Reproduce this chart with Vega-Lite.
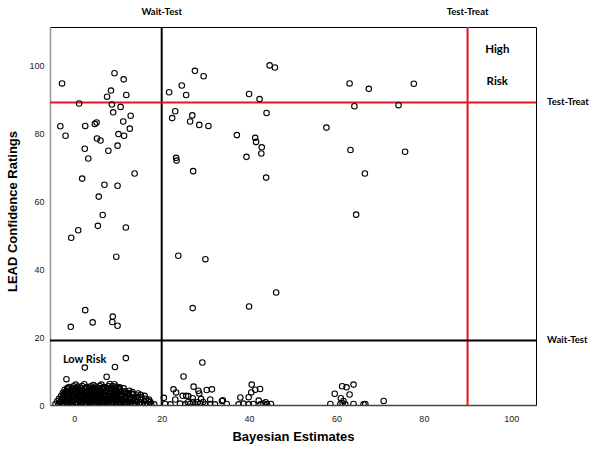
{
"$schema": "https://vega.github.io/schema/vega-lite/v6.json",
"width": 486, "height": 378,
"autosize": {"type": "none"},
"padding": {"left": 50, "top": 27, "right": 64, "bottom": 50},
"background": "white",
"config": {
  "view": {"stroke": "black", "strokeWidth": 1},
  "axis": {"grid": false, "ticks": false, "tickSize": 0, "labelFont": "Liberation Sans", "labelFontSize": 9, "labelColor": "#222", "titleFont": "Liberation Sans", "titleFontSize": 13, "titleFontWeight": "bold", "titleColor": "#000"}
},
"datasets": {
  "points": [
    {"x":-2.8,"y":94.6},{"x":9.2,"y":97.6},{"x":11.3,"y":95.8},{"x":8.4,"y":92.5},{"x":7.5,"y":90.7},{"x":11.9,"y":91.2},{"x":1.1,"y":88.7},{"x":8.6,"y":88.4},{"x":10.6,"y":87.7},{"x":8.9,"y":86.1},{"x":12.9,"y":85.1},{"x":11.2,"y":83.4},{"x":5.1,"y":83.1},{"x":4.7,"y":82.7},{"x":2.5,"y":82.1},{"x":-3.2,"y":82.0},{"x":-2.0,"y":79.2},{"x":12.7,"y":81.3},{"x":10.1,"y":79.7},{"x":11.4,"y":79.2},{"x":5.2,"y":78.4},{"x":6.0,"y":77.8},{"x":9.9,"y":76.3},{"x":2.4,"y":75.4},{"x":7.8,"y":74.8},{"x":3.2,"y":72.5},{"x":13.8,"y":68.1},{"x":1.8,"y":66.6},{"x":6.9,"y":64.8},{"x":9.9,"y":64.5},{"x":5.6,"y":61.3},{"x":6.5,"y":55.9},{"x":5.4,"y":52.7},{"x":11.8,"y":52.2},{"x":0.9,"y":51.4},{"x":-0.7,"y":49.2},{"x":9.6,"y":43.6},{"x":2.5,"y":27.9},{"x":4.2,"y":24.3},{"x":-0.8,"y":23.0},{"x":8.8,"y":26.0},{"x":8.7,"y":24.4},{"x":9.9,"y":23.3},
    {"x":21.7,"y":92.0},{"x":24.6,"y":94.0},{"x":25.6,"y":91.2},{"x":27.6,"y":98.3},{"x":29.6,"y":96.7},{"x":23.1,"y":86.4},{"x":22.4,"y":84.4},{"x":27.0,"y":85.2},{"x":26.5,"y":83.4},{"x":28.6,"y":82.4},{"x":30.7,"y":82.1},{"x":23.3,"y":72.7},{"x":23.4,"y":71.9},{"x":27.2,"y":68.8},{"x":23.8,"y":43.9},{"x":30.0,"y":42.9},{"x":46.2,"y":33.1},{"x":44.7,"y":99.9},{"x":45.9,"y":99.3},{"x":40.0,"y":91.5},{"x":42.4,"y":90.0},{"x":44.0,"y":85.9},{"x":37.2,"y":79.4},{"x":41.4,"y":78.6},{"x":41.6,"y":77.4},{"x":42.9,"y":75.8},{"x":42.8,"y":74.0},{"x":39.4,"y":73.0},{"x":43.9,"y":66.9},{"x":27.1,"y":28.5},{"x":40.0,"y":29.0},
    {"x":57.7,"y":81.6},{"x":63.0,"y":94.6},{"x":67.4,"y":93.0},{"x":77.7,"y":94.5},{"x":64.1,"y":87.9},{"x":74.2,"y":88.2},{"x":63.2,"y":75.0},{"x":75.7,"y":74.5},{"x":66.5,"y":68.1},{"x":64.5,"y":56.0},
    {"x":11.8,"y":13.8},{"x":2.4,"y":11.0},{"x":9.3,"y":11.2},{"x":-1.8,"y":7.6},{"x":7.4,"y":8.3},{"x":29.3,"y":12.5},{"x":25.0,"y":8.4},
    {"x":22.7,"y":4.6},{"x":23.3,"y":3.7},{"x":27.3,"y":5.4},{"x":28.4,"y":4.2},{"x":28.6,"y":3.4},{"x":30.3,"y":4.4},{"x":31.5,"y":4.6},{"x":24.8,"y":2.7},{"x":25.6,"y":2.7},{"x":26.1,"y":2.6},{"x":23.1,"y":1.6},{"x":27.1,"y":2.0},{"x":29.0,"y":1.8},{"x":31.1,"y":1.6},{"x":20.5,"y":2.1},{"x":33.8,"y":1.2},{"x":34.0,"y":1.4},{"x":38.0,"y":2.2},{"x":40.6,"y":6.0},{"x":40.5,"y":3.7},{"x":41.4,"y":4.5},{"x":42.5,"y":4.7},{"x":39.9,"y":2.3},{"x":42.2,"y":1.3},
    {"x":20.8,"y":0.3},{"x":22.0,"y":0.2},{"x":24.2,"y":0.4},{"x":25.4,"y":0.2},{"x":26.5,"y":0.3},{"x":27.7,"y":0.2},{"x":28.8,"y":0.4},{"x":30.0,"y":0.2},{"x":31.1,"y":0.3},{"x":32.2,"y":0.2},{"x":34.9,"y":0.3},{"x":37.6,"y":0.2},{"x":38.7,"y":0.4},{"x":39.9,"y":0.2},{"x":41.0,"y":0.3},{"x":42.6,"y":0.2},{"x":43.3,"y":0.4},{"x":44.1,"y":0.2},{"x":45.0,"y":0.3},{"x":26.0,"y":0.8},{"x":27.2,"y":0.9},{"x":28.2,"y":0.8},{"x":29.5,"y":0.9},{"x":43.8,"y":0.8},
    {"x":61.3,"y":5.5},{"x":62.3,"y":5.2},{"x":63.9,"y":6.0},{"x":59.6,"y":3.3},{"x":63.0,"y":3.1},{"x":61.0,"y":2.0},{"x":61.6,"y":1.2},{"x":61.4,"y":0.5},{"x":70.8,"y":1.2},{"x":58.6,"y":0.3},{"x":60.9,"y":0.3},{"x":62.0,"y":0.2},{"x":63.9,"y":0.3},{"x":66.2,"y":0.2},{"x":66.6,"y":0.3},
    {"x":-4.3,"y":0.3},{"x":-3.6,"y":0.1},{"x":-2.9,"y":0.4},{"x":-2.2,"y":0.2},{"x":-1.4,"y":0.3},{"x":-0.8,"y":0.1},{"x":0.1,"y":0.4},{"x":0.8,"y":0.2},{"x":1.5,"y":0.1},{"x":2.2,"y":0.3},{"x":2.9,"y":0.2},{"x":3.7,"y":0.4},{"x":4.3,"y":0.1},{"x":5.0,"y":0.3},{"x":5.8,"y":0.2},{"x":6.4,"y":0.4},{"x":7.1,"y":0.1},{"x":7.9,"y":0.3},{"x":8.5,"y":0.2},{"x":9.2,"y":0.4},{"x":10.0,"y":0.1},{"x":10.6,"y":0.3},{"x":11.3,"y":0.2},{"x":12.1,"y":0.1},{"x":12.8,"y":0.3},{"x":13.5,"y":0.2},{"x":14.1,"y":0.1},{"x":14.8,"y":0.3},{"x":15.5,"y":0.2},{"x":16.2,"y":0.1},{"x":16.9,"y":0.3},{"x":17.6,"y":0.1},{"x":18.3,"y":0.2},
    {"x":-3.9,"y":1.1},{"x":-3.2,"y":0.9},{"x":-2.5,"y":1.2},{"x":-1.8,"y":0.8},{"x":-1.0,"y":1.0},{"x":-0.3,"y":1.2},{"x":0.5,"y":0.9},{"x":1.2,"y":1.1},{"x":1.9,"y":0.8},{"x":2.6,"y":1.2},{"x":3.3,"y":1.0},{"x":4.0,"y":0.9},{"x":4.7,"y":1.2},{"x":5.4,"y":1.0},{"x":6.1,"y":0.8},{"x":6.8,"y":1.1},{"x":7.5,"y":1.0},{"x":8.2,"y":1.2},{"x":8.9,"y":0.9},{"x":9.6,"y":1.1},{"x":10.3,"y":0.8},{"x":11.0,"y":1.2},{"x":11.8,"y":1.0},{"x":12.6,"y":0.9},{"x":13.4,"y":1.1},{"x":14.3,"y":1.0},{"x":15.1,"y":0.8},{"x":16.0,"y":1.1},{"x":16.8,"y":1.3},{"x":17.4,"y":0.9},
    {"x":-3.5,"y":1.8},{"x":-2.7,"y":2.0},{"x":-2.0,"y":1.7},{"x":-1.3,"y":2.1},{"x":-0.5,"y":1.9},{"x":0.2,"y":1.7},{"x":1.0,"y":2.0},{"x":1.7,"y":1.8},{"x":2.4,"y":2.1},{"x":3.1,"y":1.9},{"x":3.8,"y":1.7},{"x":4.5,"y":2.0},{"x":5.2,"y":1.8},{"x":6.0,"y":2.1},{"x":6.7,"y":1.9},{"x":7.4,"y":1.7},{"x":8.1,"y":2.0},{"x":8.8,"y":1.8},{"x":9.5,"y":2.1},{"x":10.2,"y":1.9},{"x":11.0,"y":1.7},{"x":11.8,"y":2.0},{"x":12.7,"y":1.8},{"x":13.6,"y":2.1},{"x":14.5,"y":1.9},{"x":15.4,"y":2.2},{"x":16.3,"y":1.8},{"x":17.1,"y":1.6},
    {"x":-3.0,"y":2.7},{"x":-2.3,"y":2.9},{"x":-1.6,"y":2.6},{"x":-0.8,"y":3.0},{"x":-0.1,"y":2.8},{"x":0.6,"y":2.6},{"x":1.4,"y":2.9},{"x":2.1,"y":2.7},{"x":2.8,"y":3.0},{"x":3.6,"y":2.8},{"x":4.3,"y":2.6},{"x":5.0,"y":2.9},{"x":5.7,"y":2.7},{"x":6.5,"y":3.0},{"x":7.2,"y":2.8},{"x":7.9,"y":2.6},{"x":8.7,"y":2.9},{"x":9.4,"y":2.7},{"x":10.1,"y":3.0},{"x":10.9,"y":2.8},{"x":11.7,"y":2.6},{"x":12.5,"y":2.9},{"x":13.4,"y":3.1},{"x":14.3,"y":2.8},{"x":15.2,"y":3.0},{"x":16.1,"y":2.7},
    {"x":-2.6,"y":3.6},{"x":-1.9,"y":3.8},{"x":-1.1,"y":3.5},{"x":-0.4,"y":3.9},{"x":0.4,"y":3.7},{"x":1.1,"y":3.5},{"x":1.8,"y":3.8},{"x":2.6,"y":3.6},{"x":3.3,"y":3.9},{"x":4.0,"y":3.7},{"x":4.8,"y":3.5},{"x":5.5,"y":3.8},{"x":6.2,"y":3.6},{"x":7.0,"y":3.9},{"x":7.7,"y":3.7},{"x":8.4,"y":3.5},{"x":9.2,"y":3.8},{"x":9.9,"y":3.6},{"x":10.7,"y":3.9},{"x":11.6,"y":3.7},{"x":12.4,"y":3.5},{"x":13.3,"y":3.8},{"x":14.6,"y":3.4},
    {"x":-2.2,"y":4.5},{"x":-1.4,"y":4.7},{"x":-0.6,"y":4.4},{"x":0.2,"y":4.8},{"x":1.0,"y":4.6},{"x":1.8,"y":4.4},{"x":2.6,"y":4.7},{"x":3.3,"y":4.5},{"x":4.1,"y":4.8},{"x":4.9,"y":4.6},{"x":5.7,"y":4.4},{"x":6.5,"y":4.7},{"x":7.3,"y":4.5},{"x":8.0,"y":4.8},{"x":8.8,"y":4.6},{"x":9.6,"y":4.4},{"x":10.4,"y":4.7},{"x":11.3,"y":4.9},
    {"x":-1.2,"y":5.3},{"x":-0.2,"y":5.5},{"x":0.8,"y":5.4},{"x":1.8,"y":5.6},{"x":2.8,"y":5.3},{"x":3.8,"y":5.5},{"x":4.8,"y":5.4},{"x":5.8,"y":5.6},{"x":6.8,"y":5.3},{"x":7.8,"y":5.5},{"x":8.7,"y":5.6},{"x":9.6,"y":5.4},{"x":10.4,"y":5.2},
    {"x":0.3,"y":6.0},{"x":2.3,"y":6.1},{"x":4.4,"y":5.9},{"x":6.2,"y":6.0},{"x":8.1,"y":6.2},{"x":9.2,"y":6.1},
    {"x":-2.5,"y":0.6},{"x":-1.5,"y":0.7},{"x":-0.4,"y":0.5},{"x":0.6,"y":0.6},{"x":1.6,"y":0.7},{"x":2.6,"y":0.5},{"x":3.6,"y":0.6},{"x":4.6,"y":0.7},{"x":5.6,"y":0.5},{"x":6.6,"y":0.6},{"x":7.6,"y":0.7},{"x":8.6,"y":0.5},{"x":9.6,"y":0.6},{"x":10.7,"y":0.7},{"x":11.7,"y":0.5},{"x":12.9,"y":0.6},
    {"x":-2.9,"y":1.5},{"x":-1.9,"y":1.4},{"x":-0.8,"y":1.6},{"x":0.3,"y":1.5},{"x":1.3,"y":1.4},{"x":2.3,"y":1.6},{"x":3.3,"y":1.5},{"x":4.3,"y":1.4},{"x":5.3,"y":1.6},{"x":6.3,"y":1.5},{"x":7.3,"y":1.4},{"x":8.3,"y":1.6},{"x":9.3,"y":1.5},{"x":10.4,"y":1.4},{"x":11.5,"y":1.6},{"x":12.6,"y":1.5},{"x":13.9,"y":1.4},{"x":15.2,"y":1.6},
    {"x":-2.6,"y":2.3},{"x":-1.5,"y":2.4},{"x":-0.4,"y":2.2},{"x":0.7,"y":2.3},{"x":1.7,"y":2.4},{"x":2.7,"y":2.2},{"x":3.7,"y":2.3},{"x":4.7,"y":2.4},{"x":5.7,"y":2.2},{"x":6.7,"y":2.3},{"x":7.7,"y":2.4},{"x":8.7,"y":2.2},{"x":9.7,"y":2.3},{"x":10.7,"y":2.4},{"x":11.8,"y":2.2},{"x":13.0,"y":2.3},{"x":14.1,"y":2.4},
    {"x":-2.4,"y":3.2},{"x":-1.3,"y":3.1},{"x":-0.2,"y":3.3},{"x":0.9,"y":3.2},{"x":1.9,"y":3.1},{"x":2.9,"y":3.3},{"x":3.9,"y":3.2},{"x":4.9,"y":3.1},{"x":5.9,"y":3.3},{"x":6.9,"y":3.2},{"x":7.9,"y":3.1},{"x":8.9,"y":3.3},{"x":9.9,"y":3.2},{"x":10.9,"y":3.1},{"x":12.0,"y":3.3},{"x":13.2,"y":3.2},
    {"x":-1.8,"y":4.1},{"x":-0.8,"y":4.0},{"x":0.2,"y":4.2},{"x":1.3,"y":4.1},{"x":2.3,"y":4.0},{"x":3.3,"y":4.2},{"x":4.3,"y":4.1},{"x":5.3,"y":4.0},{"x":6.3,"y":4.2},{"x":7.3,"y":4.1},{"x":8.3,"y":4.0},{"x":9.3,"y":4.2},{"x":10.3,"y":4.1},{"x":11.5,"y":4.0},{"x":12.6,"y":4.2},
    {"x":-1.6,"y":5.0},{"x":-0.6,"y":4.9},{"x":0.5,"y":5.1},{"x":1.5,"y":5.0},{"x":2.5,"y":4.9},{"x":3.5,"y":5.1},{"x":4.5,"y":5.0},{"x":5.5,"y":4.9},{"x":6.5,"y":5.1},{"x":7.5,"y":5.0},{"x":8.5,"y":4.9},{"x":9.4,"y":5.1},{"x":10.1,"y":5.0}
  ],
  "riskCenter": [{"x":96.8,"y":104.3,"label":"High"},{"x":96.8,"y":95.0,"label":"Risk"}],
  "riskLeft": [{"x":-2.6,"y":13.1,"label":"Low Risk"}],
  "topLabels": [{"x":20,"y":115.6,"label":"Wait-Test"},{"x":90,"y":115.6,"label":"Test-Treat"}],
  "rightLabels": [{"x":108.2,"y":89,"label":"Test-Treat"},{"x":108.2,"y":19,"label":"Wait-Test"}]
},
"layer": [
  {"data": {"values": [{"x":20}]}, "mark": {"type":"rule","color":"black","strokeWidth":2},
   "encoding": {"x": {"field":"x","type":"quantitative","scale":{"domain":[-5.56,105.66],"nice":false,"zero":false}}}},
  {"data": {"values": [{"x":90}]}, "mark": {"type":"rule","color":"#e8141b","strokeWidth":2},
   "encoding": {"x": {"field":"x","type":"quantitative","scale":{"domain":[-5.56,105.66],"nice":false,"zero":false}}}},
  {"data": {"values": [{"y":19}]}, "mark": {"type":"rule","color":"black","strokeWidth":2},
   "encoding": {"y": {"field":"y","type":"quantitative","scale":{"domain":[0,111.2],"nice":false,"zero":false}}}},
  {"data": {"values": [{"y":89}]}, "mark": {"type":"rule","color":"#e8141b","strokeWidth":2},
   "encoding": {"y": {"field":"y","type":"quantitative","scale":{"domain":[0,111.2],"nice":false,"zero":false}}}},
  {"data": {"name": "points"}, "mark": {"type":"point","shape":"circle","filled":false,"stroke":"black","strokeWidth":1.1,"size":30,"opacity":1,"clip":true},
   "encoding": {
     "x": {"field":"x","type":"quantitative","title":"Bayesian Estimates","scale":{"domain":[-5.56,105.66],"nice":false,"zero":false},
           "axis":{"values":[0,20,40,60,80,100],"labelPadding":9,"titlePadding":7,"domainColor":"#444","domainWidth":1.5}},
     "y": {"field":"y","type":"quantitative","title":"LEAD Confidence Ratings","scale":{"domain":[0,111.2],"nice":false,"zero":false},
           "axis":{"values":[0,20,40,60,80,100],"labelPadding":6,"titlePadding":9,"domainColor":"#999","domainWidth":1.5,"titleY":184}}
   }},
  {"data": {"name": "riskCenter"}, "mark": {"type":"text","font":"Lato","fontWeight":"bold","fontSize":11.5,"align":"center","baseline":"middle","color":"black"},
   "encoding": {"x":{"field":"x","type":"quantitative"},"y":{"field":"y","type":"quantitative"},"text":{"field":"label"}}},
  {"data": {"name": "riskLeft"}, "mark": {"type":"text","font":"Lato","fontWeight":"bold","fontSize":11,"align":"left","baseline":"middle","color":"black"},
   "encoding": {"x":{"field":"x","type":"quantitative"},"y":{"field":"y","type":"quantitative"},"text":{"field":"label"}}},
  {"data": {"name": "topLabels"}, "mark": {"type":"text","font":"Lato","fontWeight":"bold","fontSize":9.5,"align":"center","baseline":"middle","color":"black"},
   "encoding": {"x":{"field":"x","type":"quantitative"},"y":{"field":"y","type":"quantitative"},"text":{"field":"label"}}},
  {"data": {"name": "rightLabels"}, "mark": {"type":"text","font":"Lato","fontWeight":"bold","fontSize":9.5,"align":"left","baseline":"middle","color":"black"},
   "encoding": {"x":{"field":"x","type":"quantitative"},"y":{"field":"y","type":"quantitative"},"text":{"field":"label"}}}
]
}
